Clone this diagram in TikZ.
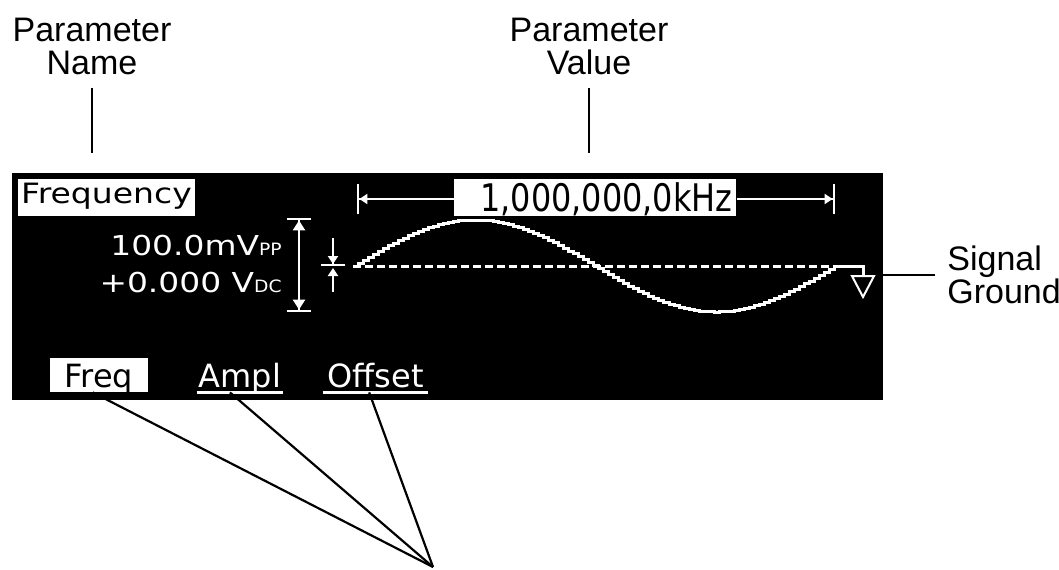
\documentclass[tikz,border=0pt]{standalone}
\usepackage{fontspec}
\setmainfont{Liberation Sans}
\newfontfamily\lcdname[FakeStretch=1.18]{DejaVu Sans}
\newfontfamily\lcdmain[FakeStretch=1.2]{DejaVu Sans}
\newfontfamily\lcdsub[FakeStretch=1.1]{DejaVu Sans}
\newfontfamily\lcdvalue[FakeStretch=0.84]{DejaVu Sans}
\newfontfamily\lcdkey{DejaVu Sans}
\usetikzlibrary{arrows.meta, calc}

\begin{document}
\begin{tikzpicture}[x=0.5pt, y=-0.5pt,
  callout/.style={font=\fontsize{17}{16.5}\selectfont, align=center, inner sep=6pt},
  leader/.style={black, line width=0.7pt},
  keyline/.style={black, line width=1.1pt},
  screen/.style={fill=black, inner sep=0pt, minimum width=435.5pt, minimum height=113.5pt},
  lcdline/.style={white, line width=1.5pt},
  lcdtext/.style={text=white, inner sep=0pt, anchor=base east, font=\lcdmain\fontsize{13.7}{14}\selectfont},
  softkey/.style={text=white, inner sep=0pt, anchor=base, text height=14.5pt, text depth=2.5pt, font=\lcdkey\fontsize{16}{16}\selectfont}
]
  \useasboundingbox (0,0) rectangle (1059,569);

  % Draw the display
  \node[screen] (screen) at (447.5,286.5) {};

  % Parameter name and value boxes
  \node[fill=white, text=black, inner sep=0pt, anchor=base, minimum width=88.5pt, text height=12pt, text depth=6.5pt, font=\lcdname\fontsize{14}{14}\selectfont] (namebox) at (106.5,203) {Frequency};
  \node[fill=white, text=black, inner sep=0pt, inner xsep=2pt, anchor=base west, text width=137pt, align=right, text height=16.25pt, text depth=2.25pt, font=\lcdvalue\fontsize{19}{19}\selectfont] (value) at (454,211.5) {1,000,000,0kHz};

  % Span of one period
  \coordinate (spanleft) at (357,199);
  \coordinate (spanright) at (835,199);
  \draw[lcdline, line width=1.2pt, {Bar[width=15pt]Triangle[length=4pt,width=5pt]}-] (spanleft) -- (spanleft -| value.west);
  \draw[lcdline, line width=1.2pt, -{Triangle[length=4pt,width=5pt]Bar[width=15pt]}] (spanright -| value.east) -- (spanright);

  % Amplitude and offset readout
  \node[lcdtext] (ampltext) at (282,255) {100.0mV{\lcdsub\fontsize{8.5}{8.5}\selectfont PP}};
  \node[lcdtext] (offstext) at (282,292) {+0.000 V{\lcdsub\fontsize{8.5}{8.5}\selectfont DC}};
  \draw[lcdline, line width=1.2pt, {Bar[width=12pt]Triangle[length=5pt,width=6pt]}-{Triangle[length=5pt,width=6pt]Bar[width=12pt]}] (299,218) -- (299,312);
  \coordinate (offmark) at (333,266);
  \draw[lcdline, line width=1pt, -{Triangle[length=4pt,width=5pt]Bar[width=12pt]}] (333,238) -- (offmark);
  \draw[lcdline, line width=1pt, -{Triangle[length=4pt,width=5pt]}] (333,292) -- (333,268);

  % Waveform, baseline and ground
  \coordinate (wavestart) at (353,266);
  \coordinate (waveend) at (835,266);
  \draw[lcdline, dash pattern=on 4pt off 2pt] (wavestart) -- (waveend);
  \draw[lcdline] plot[const plot, domain=0:1, samples=97] ({353+482*\x},{266-46*sin(360*\x)});
  \draw[lcdline] (waveend) -- ++(28,0) coordinate (gndtop) -- ++(0,10);
  \draw[white, line width=1pt] ($(gndtop)+(-11,10)$) -- ++(22,0) -- ++(-11,21) -- cycle;

  % Softkeys
  \node[softkey, fill=white, text=black, minimum width=49pt] (freq) at (99,387) {Freq};
  \node[softkey, minimum width=43pt] (ampl) at (240,387) {Ampl};
  \node[softkey, minimum width=52.5pt] (offset) at (375.5,387) {Offset};
  \foreach \k in {ampl,offset} {
    \draw[lcdline, line width=1.2pt] (\k.south west) -- (\k.south east);
  }

  % Callouts
  \node[callout, anchor=north] (pname) at (92,6) {Parameter\\Name};
  \coordinate (namepoint) at (92,153);
  \draw[leader] (pname) -- (namepoint);
  \node[callout, anchor=north] (pvalue) at (589,6) {Parameter\\Value};
  \coordinate (valuepoint) at (589,153);
  \draw[leader] (pvalue) -- (valuepoint);
  \node[callout, anchor=west, align=left] (sground) at (935,275) {Signal\\Ground};
  \draw[leader] (sground) -- (sground -| screen.east);

  % Softkey leaders
  \coordinate (focus) at (433,567);
  \foreach \k/\a in {freq/250, ampl/240, offset/250} {
    \draw[keyline] (\k.\a) -- (focus);
  }
\end{tikzpicture}
\end{document}
